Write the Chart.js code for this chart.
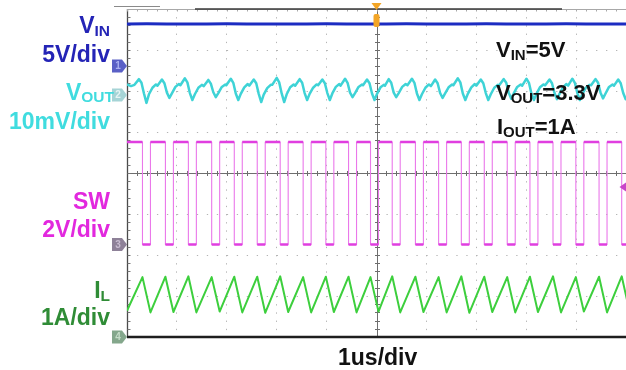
<!DOCTYPE html>
<html><head><meta charset="utf-8">
<style>html,body{margin:0;padding:0;background:#fff;overflow:hidden}canvas{display:block}</style>
<script src="https://cdn.jsdelivr.net/npm/chart.js@4.4.1/dist/chart.umd.min.js"></script>
</head><body>
<canvas id="c" width="626" height="370"></canvas>
<script>
// ---- axes: time in divisions (1 us/div), screen in divisions ----
const timeTicks = [0,1,2,3,4,5,6,7,8,9,10];
const levelTicks = [0,1,2,3,4,5,6,7,8];

// ---- SW node (V): edge times (us) ----
const swFallT = [0.31,0.77,1.23,1.697,2.15,2.61,3.07,3.53,3.985,4.44,4.88,5.315,5.78,6.245,6.70,7.16,7.62,8.075,8.537,8.995,9.46,9.914];
const swRiseT = [0.47,0.93,1.39,1.857,2.31,2.77,3.23,3.69,4.145,4.60,5.04,5.475,5.94,6.405,6.86,7.32,7.78,8.235,8.697,9.155,9.62,10.074];
const swHighV = 5.0;
const swLowV = 0.0;

// ---- inductor current (A): peaks at SW falling edges, valleys at rising edges ----
const ilStartA = 0.64;
const ilPeakA = [1.46,1.47,1.48,1.46,1.47,1.47,1.48,1.46,1.47,1.47,1.46,1.48,1.47,1.46,1.48,1.47,1.46,1.47,1.48,1.46,1.47,1.48];
const ilValleyA = [0.60,0.61,0.60,0.62,0.60,0.59,0.61,0.60,0.61,0.60,0.62,0.60,0.61,0.60,0.59,0.61,0.60,0.61,0.60,0.62,0.60,0.61];

// ---- VIN (V) ----
const vinT = [0,0.4,0.8,1.2,1.6,2.0,2.4,2.8,3.2,3.6,4.0,4.4,4.8,5.2,5.6,6.0,6.4,6.8,7.2,7.6,8.0,8.4,8.8,9.2,9.6,10];
const vinV = [5.12,5.14,5.11,5.13,5.12,5.14,5.12,5.13,5.11,5.13,5.14,5.12,5.13,5.12,5.14,5.11,5.13,5.12,5.14,5.12,5.13,5.11,5.14,5.12,5.13,5.12];

// ---- VOUT ripple (mV, AC) ----
const voutT = [0,0.08,
0.15,0.24,0.29,0.34,0.39,0.44,0.51,0.58,
0.61,0.70,0.75,0.80,0.85,0.90,0.97,1.04,
1.07,1.16,1.21,1.26,1.31,1.36,1.43,1.50,
1.54,1.63,1.68,1.73,1.78,1.83,1.90,1.97,
1.99,2.08,2.13,2.18,2.23,2.28,2.35,2.42,
2.45,2.54,2.59,2.64,2.69,2.74,2.81,2.88,
2.91,3.00,3.05,3.10,3.15,3.20,3.27,3.34,
3.37,3.46,3.51,3.56,3.61,3.66,3.73,3.80,
3.83,3.915,3.965,4.015,4.065,4.115,4.185,4.255,
4.28,4.37,4.42,4.47,4.52,4.57,4.64,4.71,
4.73,4.81,4.86,4.91,4.96,5.01,5.08,5.15,
5.17,5.245,5.295,5.345,5.395,5.445,5.515,5.585,
5.62,5.71,5.76,5.81,5.86,5.91,5.98,6.05,
6.09,6.175,6.225,6.275,6.325,6.375,6.445,6.515,
6.54,6.63,6.68,6.73,6.78,6.83,6.90,6.97,
7.00,7.09,7.14,7.19,7.24,7.29,7.36,7.43,
7.46,7.55,7.60,7.65,7.70,7.75,7.82,7.89,
7.92,8.005,8.055,8.105,8.155,8.205,8.275,8.345,
8.38,8.467,8.517,8.567,8.617,8.667,8.737,8.807,
8.84,8.925,8.975,9.025,9.075,9.125,9.195,9.265,
9.30,9.39,9.44,9.49,9.54,9.59,9.66,9.73,
9.76,9.844,9.894,9.944,9.994,10.0];
const voutMv = [2.6,2.2,
2.5,3.9,3.0,0.4,-1.9,0.2,1.8,2.6,
2.3,3.8,2.9,0.6,-0.7,0.4,2.0,2.7,
2.4,4.1,3.1,0.5,-1.2,0.2,1.8,2.5,
2.2,3.7,2.8,0.7,-0.5,0.5,2.0,2.6,
2.4,4.0,3.0,0.4,-1.2,0.3,1.9,2.7,
2.3,3.8,2.9,0.3,-1.7,0.1,1.7,2.5,
2.5,4.2,3.1,0.4,-1.7,0.2,1.9,2.6,
2.3,3.9,3.0,0.5,-1.2,0.3,1.8,2.6,
2.4,3.8,2.9,0.5,-1.2,0.4,2.0,2.7,
2.3,4.0,3.0,0.6,-0.5,0.5,2.0,2.6,
2.4,3.8,2.9,0.4,-1.2,0.3,1.9,2.5,
2.3,3.9,3.0,0.6,-0.5,0.5,2.0,2.7,
2.4,4.0,3.0,0.4,-1.2,0.2,1.8,2.6,
2.2,3.8,2.9,0.5,-0.7,0.4,1.9,2.6,
2.4,4.1,3.1,0.4,-1.2,0.3,1.9,2.7,
2.3,3.8,2.9,0.5,-1.2,0.2,1.8,2.5,
2.4,3.9,3.0,0.6,-0.9,0.4,2.0,2.6,
2.3,4.0,3.0,0.4,-1.2,0.3,1.9,2.6,
2.4,3.8,2.9,0.5,-1.0,0.3,1.9,2.7,
2.3,4.0,3.0,0.5,-1.2,0.2,1.8,2.5,
2.4,3.9,3.0,0.6,-0.8,0.4,2.0,2.6,
2.3,3.8,2.9,0.5,-1.0,-0.9];

// ---- channel settings: ground position (div) and units per div ----
const CH = {
  vin:  {gnd: 6.61,  perDiv: 5,  color: '#1c2cc2', tag: '#5a60c6', tagText: '#aab0f0', label: '1'},
  vout: {gnd: 5.90,  perDiv: 10, color: '#3ed3d6', tag: '#a6d4d6', tagText: '#e6f4f4', label: '2'},
  sw:   {gnd: 2.256, perDiv: 2,  color: '#e03ee0', tag: '#8e8198', tagText: '#c8bcd0', label: '3'},
  il:   {gnd: 0.0,   perDiv: 1,  color: '#3dcf3d', tag: '#84a78c', tagText: '#c4dcc8', label: '4'}
};
const toDiv = (ch, v) => ch.gnd + v / ch.perDiv;

// ---- build series ----
const vinData = vinT.map((t,i) => ({x:t, y:toDiv(CH.vin, vinV[i])}));
const voutData = voutT.map((t,i) => ({x:t, y:toDiv(CH.vout, voutMv[i])}));
const swStep = [{x:0, y:toDiv(CH.sw, swHighV)}];
swFallT.forEach((tf,i) => {
  swStep.push({x:tf, y:toDiv(CH.sw, swLowV)});
  swStep.push({x:swRiseT[i], y:toDiv(CH.sw, swHighV)});
});
const swLevels = [];
let prevRise = 0;
swFallT.forEach((tf,i) => {
  swLevels.push({x:prevRise, y:toDiv(CH.sw, swHighV)}, {x:tf, y:toDiv(CH.sw, swHighV)}, {x:tf, y:null});
  swLevels.push({x:tf, y:toDiv(CH.sw, swLowV)}, {x:swRiseT[i], y:toDiv(CH.sw, swLowV)}, {x:swRiseT[i], y:null});
  prevRise = swRiseT[i];
});
const ilData = [{x:0, y:toDiv(CH.il, ilStartA)}];
swFallT.forEach((tf,i) => {
  ilData.push({x:tf, y:toDiv(CH.il, ilPeakA[i])});
  ilData.push({x:swRiseT[i], y:toDiv(CH.il, ilValleyA[i])});
});

const FONT = '"Liberation Sans", Arial, Helvetica, sans-serif';
function rich(ctx, parts, x, base, color, right){
  ctx.fillStyle = color;
  let w = 0;
  parts.forEach(p => { ctx.font = 'bold ' + p.s + 'px ' + FONT; p.w = ctx.measureText(p.t).width; w += p.w; });
  let cx = right ? x - w : x;
  parts.forEach(p => { ctx.font = 'bold ' + p.s + 'px ' + FONT; ctx.fillText(p.t, cx, base + (p.dy || 0)); cx += p.w; });
}

const graticule = {
  id: 'graticule',
  beforeDatasetsDraw(chart){
    const {ctx, chartArea:a, scales:{x, y}} = chart;
    ctx.save();
    const minorX = [], minorY = [];
    for (let k = 0; k <= 50; k++) minorX.push(x.getPixelForValue(k * 0.2));
    for (let k = 0; k <= 40; k++) minorY.push(y.getPixelForValue(k * 0.2));
    const yc = Math.round(y.getPixelForValue(4)) + 0.5;
    const xc = Math.round(x.getPixelForValue(5)) + 0.5;
    ctx.lineWidth = 1;
    ctx.strokeStyle = '#6e6e6e';
    ctx.beginPath();
    ctx.moveTo(a.left, yc); ctx.lineTo(a.right, yc);
    ctx.moveTo(xc, a.top); ctx.lineTo(xc, a.bottom);
    minorX.forEach(px => { ctx.moveTo(Math.round(px)+0.5, yc-2.5); ctx.lineTo(Math.round(px)+0.5, yc+2.5); });
    minorY.forEach(py => { ctx.moveTo(xc-2.5, Math.round(py)+0.5); ctx.lineTo(xc+2.5, Math.round(py)+0.5); });
    ctx.stroke();
    // left border
    const xl = Math.round(a.left) + 0.5;
    ctx.strokeStyle = '#4a4a4a';
    ctx.lineWidth = 1.3;
    ctx.beginPath(); ctx.moveTo(xl, a.top); ctx.lineTo(xl, a.bottom); ctx.stroke();
    ctx.lineWidth = 1;
    ctx.strokeStyle = '#777';
    ctx.beginPath();
    minorY.forEach(py => { ctx.moveTo(xl, Math.round(py)+0.5); ctx.lineTo(xl+3, Math.round(py)+0.5); });
    ctx.stroke();
    // top border
    const yt = Math.round(a.top) + 0.5;
    ctx.strokeStyle = '#a8a8a8';
    ctx.beginPath(); ctx.moveTo(a.left, yt); ctx.lineTo(a.right, yt);
    minorX.forEach(px => { ctx.moveTo(Math.round(px)+0.5, yt); ctx.lineTo(Math.round(px)+0.5, yt+2); });
    ctx.stroke();
    ctx.strokeStyle = '#3a3a3a'; ctx.lineWidth = 1.6;
    ctx.beginPath(); ctx.moveTo(195, yt-0.5); ctx.lineTo(562, yt-0.5); ctx.stroke();
    ctx.strokeStyle = '#8a8a8a'; ctx.lineWidth = 1;
    ctx.beginPath(); ctx.moveTo(114, 6.5); ctx.lineTo(160, 6.5); ctx.stroke();
    ctx.restore();
  },
  afterDatasetsDraw(chart){
    const {ctx, chartArea:a, scales:{x, y}} = chart;
    ctx.save();
    // bottom border
    const yb = Math.round(a.bottom);
    ctx.strokeStyle = '#1e1e1e'; ctx.lineWidth = 2.5;
    ctx.beginPath(); ctx.moveTo(a.left, yb); ctx.lineTo(a.right, yb); ctx.stroke();
    // channel ground tags
    Object.values(CH).forEach(ch => {
      const py = y.getPixelForValue(ch.gnd);
      ctx.fillStyle = ch.tag;
      ctx.beginPath();
      ctx.moveTo(112, py-6.5); ctx.lineTo(122, py-6.5); ctx.lineTo(127, py); ctx.lineTo(122, py+6.5); ctx.lineTo(112, py+6.5);
      ctx.closePath(); ctx.fill();
      ctx.fillStyle = ch.tagText;
      ctx.font = 'bold 10px ' + FONT;
      ctx.textAlign = 'center'; ctx.textBaseline = 'middle';
      ctx.fillText(ch.label, 118, py + 0.5);
    });
    ctx.textAlign = 'left'; ctx.textBaseline = 'alphabetic';
    // trigger position marker
    const xt = x.getPixelForValue(5);
    ctx.fillStyle = '#f3a526';
    ctx.beginPath(); ctx.moveTo(xt-5, 3); ctx.lineTo(xt+5, 3); ctx.lineTo(xt, 10); ctx.closePath(); ctx.fill();
    ctx.beginPath(); ctx.roundRect ? ctx.roundRect(xt-3, 14, 6, 13, 2) : ctx.rect(xt-3, 14, 6, 13); ctx.fill();
    // trigger level marker (SW channel)
    ctx.fillStyle = '#c845c8';
    ctx.beginPath(); ctx.moveTo(626, 182.5); ctx.lineTo(619.5, 187); ctx.lineTo(626, 191.5); ctx.closePath(); ctx.fill();
    // left channel labels
    rich(ctx, [{t:'V', s:23}, {t:'IN', s:15.5, dy:3}], 110, 33, '#2424b6', true);
    rich(ctx, [{t:'5V/div', s:23}], 110, 62, '#2424b6', true);
    rich(ctx, [{t:'V', s:23}, {t:'OUT', s:15.5, dy:2}], 114, 100, '#40dcdf', true);
    rich(ctx, [{t:'10mV/div', s:23}], 110, 129, '#40dcdf', true);
    rich(ctx, [{t:'SW', s:23}], 110, 209, '#e228de', true);
    rich(ctx, [{t:'2V/div', s:23}], 110, 237, '#e228de', true);
    rich(ctx, [{t:'I', s:23}, {t:'L', s:15.5, dy:3}], 110, 298, '#2f8c36', true);
    rich(ctx, [{t:'1A/div', s:23}], 110, 325, '#2f8c36', true);
    // conditions
    rich(ctx, [{t:'V', s:22}, {t:'IN', s:15, dy:3}, {t:'=5V', s:22}], 496, 57, '#111', false);
    rich(ctx, [{t:'V', s:22}, {t:'OUT', s:15, dy:3}, {t:'=3.3V', s:22}], 496, 100, '#111', false);
    rich(ctx, [{t:'I', s:22}, {t:'OUT', s:15, dy:3}, {t:'=1A', s:22}], 497, 134, '#111', false);
    // time base
    rich(ctx, [{t:'1us/div', s:23}], 338, 365, '#111', false);
    ctx.restore();
  }
};

const gridColor = c => (c.tick && (c.tick.value === 0 || c.tick.value === 5 || c.tick.value === 10)) ? 'rgba(0,0,0,0)' : '#b4b4b4';
const gridColorY = c => (c.tick && (c.tick.value === 0 || c.tick.value === 4 || c.tick.value === 8)) ? 'rgba(0,0,0,0)' : '#b4b4b4';

new Chart(document.getElementById('c'), {
  type: 'line',
  data: {
    datasets: [
      {label:'VIN', data:vinData, borderColor:CH.vin.color, borderWidth:3},
      {label:'VOUT', data:voutData, borderColor:CH.vout.color, borderWidth:2.5},
      {label:'SW levels', data:swLevels, borderColor:CH.sw.color, borderWidth:2.6, spanGaps:false},
      {label:'SW', data:swStep, borderColor:'#ea78ea', borderWidth:1.1, stepped:true},
      {label:'IL', data:ilData, borderColor:CH.il.color, borderWidth:2}
    ]
  },
  options: {
    responsive: false,
    animation: false,
    devicePixelRatio: 1,
    parsing: false,
    normalized: true,
    layout: {padding: {left:127, right:0, top:9, bottom:33}},
    plugins: {legend:{display:false}, tooltip:{enabled:false}},
    elements: {point:{radius:0, hoverRadius:0}, line:{tension:0, borderJoinStyle:'round', borderCapStyle:'butt', fill:false}},
    scales: {
      x: {type:'linear', min:0, max:10,
          afterBuildTicks: s => { s.ticks = timeTicks.map(v => ({value:v})); },
          ticks:{display:false}, grid:{drawTicks:false, color:gridColor, lineWidth:1},
          border:{display:false, dash:[1.3, 6.9]}},
      y: {type:'linear', min:0, max:8,
          afterBuildTicks: s => { s.ticks = levelTicks.map(v => ({value:v})); },
          ticks:{display:false}, grid:{drawTicks:false, color:gridColorY, lineWidth:1},
          border:{display:false, dash:[1.3, 8.68]}}
    }
  },
  plugins: [graticule]
});
</script>
</body></html>
